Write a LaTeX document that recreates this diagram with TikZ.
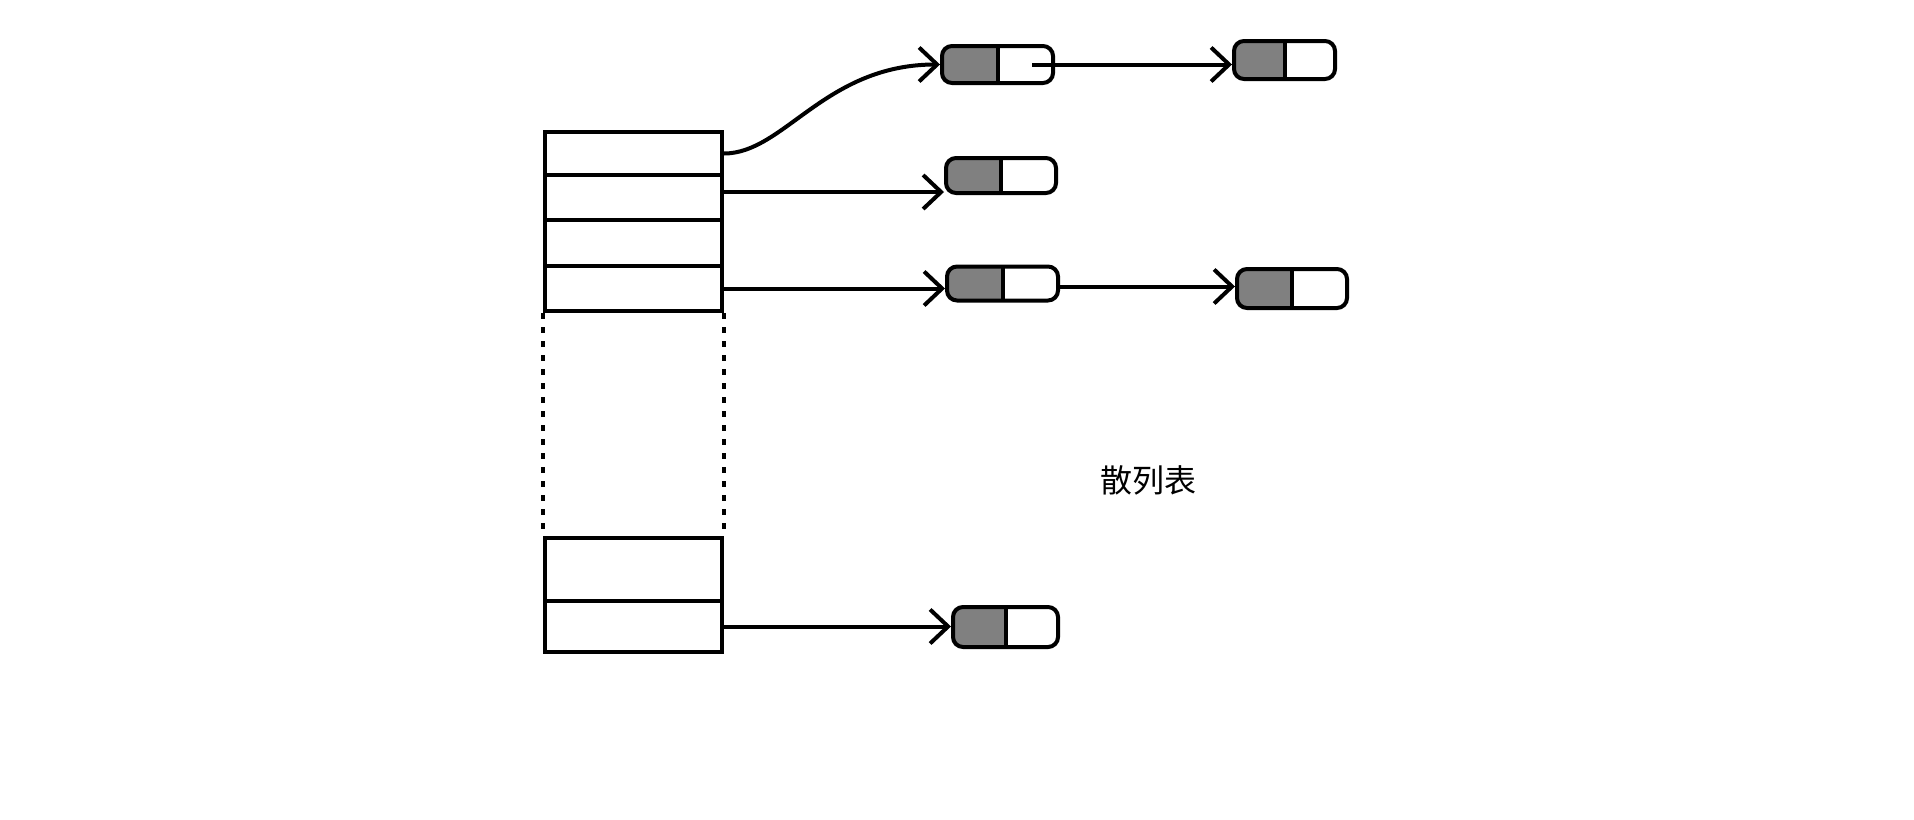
\documentclass[tikz,border=0pt]{standalone}
\usepackage{fontspec}
\newfontfamily\cjk{Noto Sans CJK SC}
\usetikzlibrary{arrows.meta}
\usetikzlibrary{calc}

\begin{document}
\begin{tikzpicture}[x=0.5pt,y=-0.5pt,
  slotbox/.style={draw,line width=2pt,inner sep=0pt,minimum width=88.5pt},
  listnode/.style={draw,line width=2pt,rounded corners=5pt,inner sep=0pt,
    path picture={
      \fill[gray,sharp corners] (path picture bounding box.south west) rectangle ($(path picture bounding box.north west)!0.5!(path picture bounding box.north east)$);
      \draw[line width=2pt] ($(path picture bounding box.south west)!0.5!(path picture bounding box.south east)$) -- ($(path picture bounding box.north west)!0.5!(path picture bounding box.north east)$);
    }},
  link/.style={-{Straight Barb[length=9pt,width=17pt]},line width=2pt}]
\useasboundingbox (0,0) rectangle (1914,819);
% hash table buckets
\node[slotbox,minimum height=21.5pt] (slot1) at (633.5,153.5) {};
\node[slotbox,minimum height=22.5pt] (slot2) at (633.5,197.5) {};
\node[slotbox,minimum height=23pt] (slot3) at (633.5,243) {};
\node[slotbox,minimum height=22.5pt] (slot4) at (633.5,288.5) {};
\node[slotbox,minimum height=31.5pt] (slotm) at (633.5,569.5) {};
\node[slotbox,minimum height=25.5pt] (slotn) at (633.5,626.5) {};
\draw[line width=2pt,dash pattern=on 3pt off 4pt] (slot4.south west) -- (slotm.north west);
\draw[line width=2pt,dash pattern=on 3pt off 4pt] (slot4.south east) -- (slotm.north east);
% list nodes
\node[listnode,minimum width=55.5pt,minimum height=18.5pt] (n1) at (997.5,64.5) {};
\node[listnode,minimum width=50.5pt,minimum height=19pt] (n1b) at (1284.5,60) {};
\node[listnode,minimum width=55pt,minimum height=17.5pt] (n2) at (1001,175.5) {};
\node[listnode,minimum width=55.5pt,minimum height=17pt] (n3) at (1002.5,283.5) {};
\node[listnode,minimum width=55pt,minimum height=19.5pt] (n3b) at (1292,288.5) {};
\node[listnode,minimum width=52.5pt,minimum height=20pt] (n4) at (1005.5,627) {};
\node[font=\cjk\fontsize{16pt}{19pt}\selectfont] (title) at (1148,480) {散列表};
% links
\draw[link] (slot1.east) .. controls ($(slot1.east)+(60,0)$) and ($(n1.west)+(-115,0)$) .. (n1.west);
\draw[link] ([yshift=2.75pt]slot2.east) -- ([yshift=2.75pt]slot2.east -| n2.west);
\draw[link] (slot4.east) -- (slot4.east -| n3.west);
\draw[link] (slotn.east) -- (slotn.east -| n4.west);
\coordinate (n1p) at ($(n1.center)!0.6!(n1.east)$);
\draw[link] (n1p) -- (n1p -| n1b.west);
\draw[link] ([yshift=-1.5pt]n3.east) -- ([yshift=-1.5pt]n3.east -| n3b.west);
\end{tikzpicture}
\end{document}
